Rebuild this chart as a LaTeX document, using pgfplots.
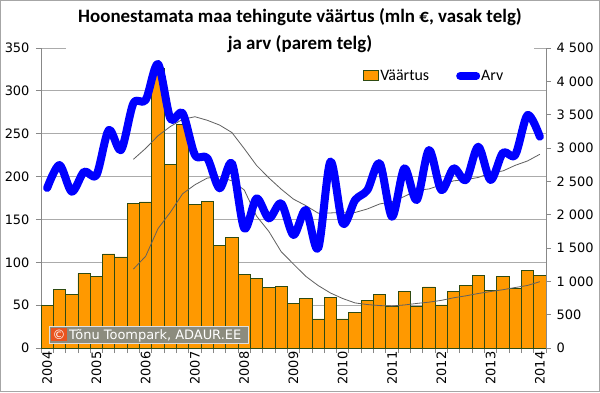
\documentclass[border=0pt]{standalone}
\usepackage{pgfplots}
\pgfplotsset{compat=1.18}
\usepackage{fontspec}
\setmainfont{DejaVu Sans}
\newfontfamily\calibri{Carlito}
\definecolor{barfill}{HTML}{FF9900}
\definecolor{baredge}{HTML}{2E4A12}
\definecolor{gridc}{HTML}{ABABAB}
\definecolor{axisc}{HTML}{888888}
\definecolor{copyc}{HTML}{8C8C7E}
\definecolor{copyred}{HTML}{E9541E}
\definecolor{maline}{HTML}{606060}
\begin{document}
\begin{tikzpicture}[x=1bp,y=1bp]
\useasboundingbox (0,0) rectangle (600,-392);
\fill[white] (0,0) rectangle (600,-392);
\pgfplotsset{
  every axis/.append style={
    scale only axis, width=505bp, height=300bp,
    at={(41bp,-348bp)}, anchor=south west,
    xmin=-0.5, xmax=40.5,
    axis line style={axisc, line width=0.9bp, -},
    tick style={axisc, line width=0.9bp},
    major tick length=5bp,
    tick align=outside,
    ticklabel style={font=\fontsize{13}{15}\selectfont, text=black},
    /pgf/number format/assume math mode=true,
  }
}
\begin{axis}[
  ymin=0, ymax=350, ytick={0,50,...,350},
  axis y line*=left, axis x line*=bottom,
  ymajorgrids, grid style={gridc, line width=0.9bp},
  xtick={-0.5,0.5,...,40.5}, xticklabels={},
  extra x ticks={0,4,...,40},
  extra x tick labels={2004,2005,2006,2007,2008,2009,2010,2011,2012,2013,2014},
  extra x tick style={major tick length=0pt, grid=none,
     xticklabel style={rotate=90, anchor=east}},
  yticklabel style={xshift=-3bp},
]
\addplot[ybar, bar width=1, fill=barfill, draw=baredge, line width=0.9bp] coordinates {
(0,50) (1,68.5) (2,62.3) (3,86.8) (4,84) (5,109.7) (6,106.2) (7,168.9) (8,170.4) (9,326)
(10,214) (11,261) (12,168) (13,171.5) (14,119.5) (15,129.3) (16,86) (17,81.5) (18,70.8) (19,72.2)
(20,52.2) (21,57.6) (22,33.9) (23,59.1) (24,33.9) (25,41.2) (26,55.3) (27,62.5) (28,49) (29,66.5)
(30,48.6) (31,71.2) (32,50.2) (33,65.8) (34,73.2) (35,84.4) (36,67.3) (37,83.3) (38,69.3) (39,90.7)
(40,84.8)};
\addplot[maline, line width=0.8bp, no marks] coordinates {
(7,92.05) (8,107.1) (9,139.3) (10,158.3) (11,180.0) (12,190.5) (13,198.3) (14,199.9) (15,195.0)
(16,184.4) (17,153.9) (18,136.0) (19,112.4) (20,97.9) (21,83.6) (22,72.9) (23,64.2) (24,57.7)
(25,52.6) (26,50.7) (27,49.5) (28,49.1) (29,50.2) (30,52.0) (31,53.5) (32,55.6) (33,58.6)
(34,60.9) (35,63.6) (36,65.9) (37,68.0) (38,70.6) (39,73.0) (40,77.4)};
\end{axis}
\begin{axis}[
  ymin=0, ymax=4500, ytick={0,500,...,4500},
  yticklabels={0,500,1 000,1 500,2 000,2 500,3 000,3 500,4 000,4 500},
  axis y line*=right, axis x line=none,
  yticklabel style={xshift=2bp},
  legend style={at={(0.632,0.907)}, anchor=west, draw=none, fill=none,
    font=\calibri\fontsize{16}{18}\selectfont, legend columns=2,
    nodes={inner xsep=1bp},
    /tikz/every even column/.append style={column sep=26bp}},
]
\addlegendimage{legend image code/.code={\draw[fill=barfill, draw=baredge, line width=0.9bp] (0bp,-5bp) rectangle (15bp,5bp);}}
\addlegendentry{Väärtus}
\addplot[maline, line width=0.8bp, no marks, forget plot] coordinates {
(7,2830) (8,2995) (9,3184) (10,3322) (11,3431) (12,3469) (13,3416) (14,3344) (15,3232) (16,2991)
(17,2739) (18,2552) (19,2383) (20,2233) (21,2136) (22,2023) (23,2026) (24,2036) (25,2033)
(26,2086) (27,2161) (28,2195) (29,2273) (30,2364) (31,2386) (32,2448) (33,2508) (34,2526)
(35,2558) (36,2626) (37,2656) (38,2740) (39,2806) (40,2906)};
\addplot[blue, line width=8bp, smooth, line cap=round, line join=round, no marks,
  legend image code/.code={\draw[blue, line width=8bp, line cap=round] (3bp,0bp) -- (19bp,0bp);}] coordinates {
(0,2400) (1,2745) (2,2345) (3,2645) (4,2595) (5,3270) (6,2970) (7,3670) (8,3720) (9,4260)
(10,3445) (11,3520) (12,2895) (13,2850) (14,2395) (15,2770) (16,1795) (17,2245) (18,1945) (19,2170)
(20,1695) (21,2070) (22,1495) (23,2795) (24,1870) (25,2220) (26,2370) (27,2770) (28,1970) (29,2695)
(30,2220) (31,2970) (32,2370) (33,2695) (34,2520) (35,3020) (36,2520) (37,2930) (38,2895) (39,3495)
(40,3170)};
\addlegendentry{Arv}
\end{axis}
% title
\fill[white] (66,-2) rectangle (534,-52);
\node[font=\calibri\bfseries\fontsize{19}{23}\selectfont, anchor=base, inner sep=0] at (300,-22.7) {Hoonestamata maa tehingute väärtus (mln €, vasak telg)};
\node[font=\calibri\bfseries\fontsize{19}{23}\selectfont, anchor=base, inner sep=0] at (300,-49.3) {ja arv (parem telg)};
% copyright
\fill[copyc] (49,-326) rectangle (248,-343);
\draw[white!75!gray, line width=0.8bp] (49,-326) rectangle (248,-343);
\fill[copyred] (51,-328) rectangle (67,-341);
\node[text=white, font=\fontsize{13}{15}\selectfont, inner sep=0] at (59,-334.5) {©};
\node[text=white, font=\fontsize{13}{15}\selectfont, anchor=base west, inner sep=0] at (69,-339.3) {Tõnu Toompark, ADAUR.EE};
\draw[gray!70, line width=1bp] (0.5,-0.5) rectangle (599.5,-391.5);
\end{tikzpicture}
\end{document}
